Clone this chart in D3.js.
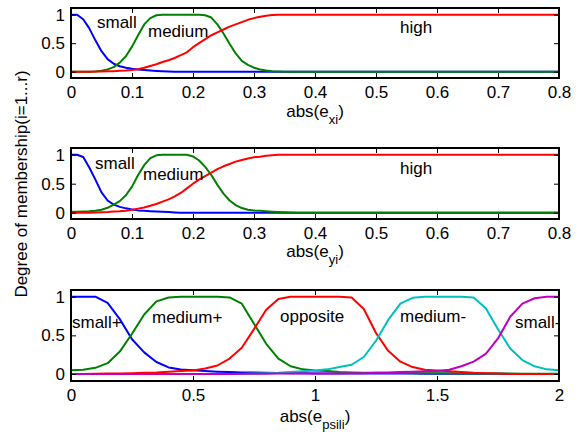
<!DOCTYPE html>
<html>
<head>
<meta charset="utf-8">
<script src="https://cdn.jsdelivr.net/npm/d3@7"></script>
<style>
  html, body { margin: 0; padding: 0; background: #fff; }
  svg { display: block; font-family: "Liberation Sans", Arial, sans-serif; }
</style>
</head>
<body>
<svg id="chart" width="579" height="436"></svg>
<script>
// ---- membership functions, panel 1: abs(e_xi) ----
const xiGrid = [0, 0.01, 0.02, 0.03, 0.04, 0.05, 0.06, 0.07, 0.08, 0.09,
  0.10, 0.11, 0.12, 0.13, 0.14, 0.15, 0.16, 0.17, 0.18, 0.19,
  0.20, 0.21, 0.22, 0.23, 0.24, 0.25, 0.26, 0.27, 0.28, 0.29,
  0.30, 0.31, 0.32, 0.33, 0.34, 0.35, 0.36, 0.8];
const xiSmall = [1, 1, 0.92, 0.76, 0.55, 0.36, 0.22, 0.14, 0.095, 0.07,
  0.05, 0.04, 0.03, 0.02, 0.012, 0.006, 0.002, 0, 0, 0,
  0, 0, 0, 0, 0, 0, 0, 0, 0, 0,
  0, 0, 0, 0, 0, 0, 0, 0];
const xiMedium = [0, 0, 0, 0, 0.005, 0.015, 0.04, 0.08, 0.16, 0.27,
  0.44, 0.64, 0.83, 0.94, 0.99, 1, 1, 1, 1, 1,
  1, 1, 0.99, 0.95, 0.83, 0.67, 0.49, 0.32, 0.19, 0.12,
  0.07, 0.04, 0.02, 0.01, 0.005, 0, 0, 0];
const xiHigh = [0, 0, 0, 0, 0.002, 0.003, 0.006, 0.01, 0.015, 0.02,
  0.03, 0.045, 0.07, 0.1, 0.13, 0.17, 0.2, 0.24, 0.29, 0.34,
  0.43, 0.5, 0.57, 0.64, 0.69, 0.74, 0.79, 0.83, 0.87, 0.91,
  0.94, 0.965, 0.98, 0.995, 1, 1, 1, 1];

// ---- panel 2: abs(e_yi) ----
const yiGrid = [0, 0.01, 0.02, 0.03, 0.04, 0.05, 0.06, 0.07, 0.08, 0.09,
  0.10, 0.11, 0.12, 0.13, 0.14, 0.15, 0.16, 0.17, 0.18, 0.19,
  0.20, 0.21, 0.22, 0.23, 0.24, 0.25, 0.26, 0.27, 0.28, 0.29,
  0.30, 0.31, 0.32, 0.33, 0.34, 0.35, 0.36, 0.37, 0.8];
const yiSmall = [1, 1, 0.96, 0.78, 0.57, 0.35, 0.21, 0.14, 0.1, 0.075,
  0.055, 0.04, 0.032, 0.025, 0.02, 0.017, 0.012, 0.005, 0, 0,
  0, 0, 0, 0, 0, 0, 0, 0, 0, 0,
  0, 0, 0, 0, 0, 0, 0, 0, 0];
const yiMedium = [0.015, 0.017, 0.02, 0.025, 0.035, 0.05, 0.085, 0.14, 0.2, 0.3,
  0.45, 0.65, 0.82, 0.94, 0.99, 1, 1, 1, 1, 1,
  0.97, 0.9, 0.79, 0.65, 0.48, 0.33, 0.21, 0.13, 0.08, 0.05,
  0.04, 0.033, 0.025, 0.018, 0.012, 0.008, 0.004, 0, 0];
const yiHigh = [0, 0, 0, 0, 0.003, 0.008, 0.012, 0.02, 0.025, 0.035,
  0.05, 0.07, 0.09, 0.12, 0.15, 0.19, 0.23, 0.28, 0.34, 0.42,
  0.5, 0.57, 0.63, 0.69, 0.75, 0.8, 0.84, 0.88, 0.91, 0.935,
  0.955, 0.965, 0.98, 0.99, 1, 1, 1, 1, 1];

// ---- panel 3: abs(e_psili) ----
const psiGrid = [0, 0.05, 0.1, 0.15, 0.2, 0.25, 0.3, 0.35, 0.4, 0.45,
  0.5, 0.55, 0.6, 0.65, 0.7, 0.75, 0.8, 0.85, 0.9, 0.95,
  1.0, 1.05, 1.1, 1.15, 1.2, 1.25, 1.3, 1.35, 1.4, 1.45,
  1.5, 1.55, 1.6, 1.65, 1.7, 1.75, 1.8, 1.85, 1.9, 1.95, 2.0];
const psiSmallPlus = [1, 1, 1, 0.92, 0.71, 0.45, 0.28, 0.155, 0.085, 0.058,
  0.048, 0.038, 0.03, 0.025, 0.02, 0.018, 0.015, 0.012, 0.01, 0.01,
  0.008, 0.008, 0.007, 0.007, 0.006, 0.006, 0.005, 0.005, 0.005, 0.004,
  0.004, 0.003, 0.003, 0.002, 0.002, 0.002, 0.001, 0.001, 0, 0, 0];
const psiMediumPlus = [0.05, 0.055, 0.08, 0.14, 0.29, 0.52, 0.77, 0.94, 0.99, 1,
  1, 1, 1, 0.99, 0.91, 0.65, 0.39, 0.2, 0.1, 0.06,
  0.045, 0.04, 0.025, 0.02, 0.017, 0.015, 0.013, 0.012, 0.011, 0.01,
  0.01, 0.009, 0.008, 0.008, 0.007, 0.006, 0.005, 0.004, 0.003, 0.002, 0.002];
const psiOpposite = [0, 0, 0.003, 0.005, 0.008, 0.01, 0.015, 0.02, 0.03, 0.04,
  0.045, 0.07, 0.11, 0.2, 0.34, 0.58, 0.83, 0.97, 1, 1,
  1, 1, 1, 0.99, 0.84, 0.53, 0.3, 0.16, 0.09, 0.055,
  0.045, 0.035, 0.025, 0.015, 0.01, 0.005, 0, 0, 0, 0, 0];
const psiMediumMinus = [0, 0, 0, 0, 0, 0, 0, 0, 0, 0,
  0, 0, 0, 0, 0, 0.005, 0.01, 0.015, 0.025, 0.035,
  0.045, 0.06, 0.09, 0.12, 0.22, 0.43, 0.7, 0.91, 0.985, 1,
  1, 1, 1, 0.99, 0.85, 0.58, 0.33, 0.18, 0.1, 0.06, 0.05];
const psiSmallMinus = [0, 0, 0, 0, 0, 0, 0, 0, 0, 0,
  0, 0, 0, 0, 0.002, 0.003, 0.004, 0.005, 0.005, 0.005,
  0.005, 0.007, 0.008, 0.009, 0.01, 0.015, 0.02, 0.025, 0.03, 0.035,
  0.04, 0.055, 0.1, 0.16, 0.26, 0.46, 0.74, 0.91, 0.98, 1, 1];

// ---- tick values ----
const errTicks = [0, 0.1, 0.2, 0.3, 0.4, 0.5, 0.6, 0.7, 0.8];
const psiTicks = [0, 0.5, 1, 1.5, 2];
const degTicks = [0, 0.5, 1];

const colors = {
  blue: "#0000ff", green: "#008000", red: "#ff0000",
  cyan: "#00bfbf", magenta: "#bf00bf"
};

const panels = [
  {
    box: { top: 8, bottom: 78 }, yOne: 14.7, yZero: 71.7,
    xMax: 0.8, xTicks: errTicks, grid: xiGrid,
    series: [
      { values: xiSmall, color: colors.blue },
      { values: xiMedium, color: colors.green },
      { values: xiHigh, color: colors.red }
    ],
    labels: [
      { text: "small", x: 97, y: 28 },
      { text: "medium", x: 148, y: 37 },
      { text: "high", x: 400, y: 33 }
    ],
    xLabel: { main: "abs(e", sub: "xi", y: 117 }
  },
  {
    box: { top: 148, bottom: 219 }, yOne: 154.7, yZero: 212.7,
    xMax: 0.8, xTicks: errTicks, grid: yiGrid,
    series: [
      { values: yiSmall, color: colors.blue },
      { values: yiMedium, color: colors.green },
      { values: yiHigh, color: colors.red }
    ],
    labels: [
      { text: "small", x: 95, y: 169 },
      { text: "medium", x: 143, y: 180 },
      { text: "high", x: 400, y: 174 }
    ],
    xLabel: { main: "abs(e", sub: "yi", y: 257 }
  },
  {
    box: { top: 290, bottom: 381 }, yOne: 296.7, yZero: 374,
    xMax: 2, xTicks: psiTicks, grid: psiGrid,
    series: [
      { values: psiSmallPlus, color: colors.blue },
      { values: psiMediumPlus, color: colors.green },
      { values: psiOpposite, color: colors.red },
      { values: psiMediumMinus, color: colors.cyan },
      { values: psiSmallMinus, color: colors.magenta }
    ],
    labels: [
      { text: "small+", x: 72, y: 328 },
      { text: "medium+", x: 152, y: 323 },
      { text: "opposite", x: 280, y: 322 },
      { text: "medium-", x: 400, y: 322 },
      { text: "small-", x: 515, y: 328 }
    ],
    xLabel: { main: "abs(e", sub: "psili", y: 422 }
  }
];

const svg = d3.select("#chart");
const left = 71, right = 559;
const fontSize = 17;
const tickLen = 5;

panels.forEach(p => {
  const x = d3.scaleLinear().domain([0, p.xMax]).range([left, right]);
  const y = d3.scaleLinear().domain([0, 1]).range([p.yZero, p.yOne]);
  const g = svg.append("g");

  // curves
  const line = d3.line()
    .x((d, i) => x(p.grid[i]))
    .y(d => y(d));
  p.series.forEach(s => {
    g.append("path")
      .datum(s.values)
      .attr("fill", "none")
      .attr("stroke", s.color)
      .attr("stroke-width", 2)
      .attr("stroke-linejoin", "round")
      .attr("d", line);
  });

  // in-plot text labels
  p.labels.forEach(l => {
    g.append("text")
      .attr("x", l.x).attr("y", l.y)
      .attr("font-size", fontSize)
      .attr("fill", "#000")
      .text(l.text);
  });

  // axes (ticks pointing inward on all four sides)
  const styleAxis = sel => {
    sel.select(".domain").remove();
    sel.selectAll(".tick line").attr("stroke", "#000").attr("stroke-width", 1);
    sel.selectAll(".tick text").attr("font-size", fontSize).attr("fill", "#000")
      .attr("font-family", "\"Liberation Sans\", Arial, sans-serif");
  };

  g.append("g")
    .attr("transform", `translate(0,${p.box.bottom})`)
    .call(d3.axisBottom(x).tickValues(p.xTicks).tickSize(-tickLen).tickPadding(8)
      .tickFormat(d3.format("~g")))
    .call(styleAxis);
  g.append("g")
    .attr("transform", `translate(0,${p.box.top})`)
    .call(d3.axisTop(x).tickValues(p.xTicks).tickSize(-tickLen).tickFormat(""))
    .call(styleAxis);
  g.append("g")
    .attr("transform", `translate(${left},0)`)
    .call(d3.axisLeft(y).tickValues(degTicks).tickSize(-tickLen).tickPadding(6)
      .tickFormat(d3.format("~g")))
    .call(styleAxis);
  g.append("g")
    .attr("transform", `translate(${right},0)`)
    .call(d3.axisRight(y).tickValues(degTicks).tickSize(-tickLen).tickFormat(""))
    .call(styleAxis);

  // axes box
  g.append("rect")
    .attr("x", left).attr("y", p.box.top)
    .attr("width", right - left).attr("height", p.box.bottom - p.box.top)
    .attr("fill", "none").attr("stroke", "#000").attr("stroke-width", 2);

  // x-axis label with subscript
  const t = g.append("text")
    .attr("x", (left + right) / 2).attr("y", p.xLabel.y)
    .attr("text-anchor", "middle")
    .attr("font-size", fontSize).attr("fill", "#000");
  t.append("tspan").text(p.xLabel.main);
  t.append("tspan").attr("font-size", 13).attr("dy", 7).text(p.xLabel.sub);
  t.append("tspan").attr("dy", -7).text(")");
});

// shared y-axis label
svg.append("text")
  .attr("transform", "translate(27,184) rotate(-90)")
  .attr("text-anchor", "middle")
  .attr("font-size", fontSize).attr("fill", "#000")
  .text("Degree of membership(i=1...r)");
</script>
</body>
</html>
